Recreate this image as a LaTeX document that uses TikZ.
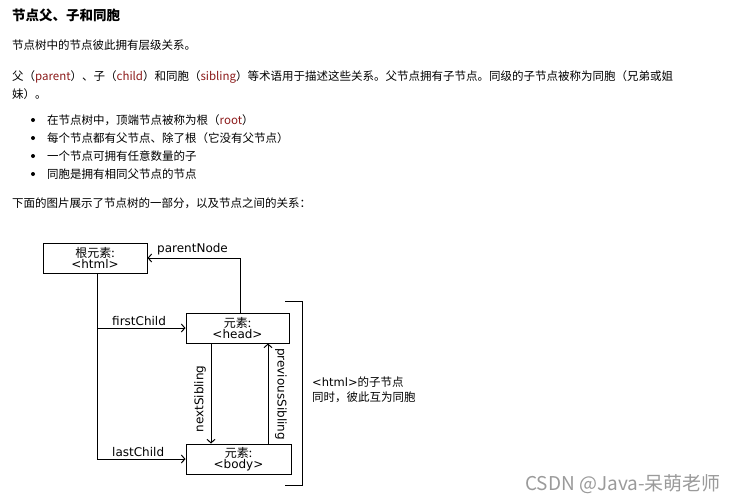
\documentclass[tikz,border=0pt]{standalone}
\usepackage{fontspec}
\usetikzlibrary{arrows.meta}
\setmainfont{Noto Sans CJK SC}
\newfontfamily\cjk{Noto Sans CJK SC}
\newfontfamily\dv{DejaVu Sans}
\definecolor{codec}{HTML}{8B1A1A}
\definecolor{wm}{HTML}{9A9A9A}
\tikzset{
  txt/.style={anchor=base west, inner sep=0pt, font=\fontsize{11.5}{13}\selectfont},
  ttl/.style={anchor=base west, inner sep=0pt, font=\fontsize{13.5}{15}\selectfont\bfseries},
  box/.style={draw, line width=1pt, minimum width=#1, minimum height=30pt, inner sep=0pt, align=center, font=\fontsize{12}{12}\selectfont},
  lbl/.style={inner sep=0pt, font=\dv\fontsize{12}{12}\selectfont},
  con/.style={line width=1pt},
  arr/.style={line width=1pt, -{Straight Barb[length=3.5pt,width=8pt]}},
  bul/.style={circle, fill, inner sep=0pt, minimum size=4pt}
}
\begin{document}
\begin{tikzpicture}[x=1pt,y=-1pt]
\useasboundingbox (0,0) rectangle (736,503);
% header text
\node[ttl] (t0) at (12,21) {节点父、子和同胞};
\node[txt] (t1) at (12,49.5) {节点树中的节点彼此拥有层级关系。};
\node[txt] (t2) at (12,81) {父（\textcolor{codec}{parent}）、子（\textcolor{codec}{child}）和同胞（\textcolor{codec}{sibling}）等术语用于描述这些关系。父节点拥有子节点。同级的子节点被称为同胞（兄弟或姐};
\node[txt] (t3) at (12,98) {妹）。};
\node[bul] (b1) at (33,120) {};
\node[bul] (b2) at (33,138) {};
\node[bul] (b3) at (33,156) {};
\node[bul] (b4) at (33,174) {};
\node[txt] (l1) at (47,124.5) {在节点树中，顶端节点被称为根（\textcolor{codec}{root}）};
\node[txt] (l2) at (47,142.5) {每个节点都有父节点、除了根（它没有父节点）};
\node[txt] (l3) at (47,160.5) {一个节点可拥有任意数量的子};
\node[txt] (l4) at (47,178.5) {同胞是拥有相同父节点的节点};
\node[txt] (t4) at (12,207.5) {下面的图片展示了节点树的一部分，以及节点之间的关系：};
% diagram
\node[box=104pt] (root) at (95,258) {根元素:\\[-1pt]{\dv <html>}};
\node[box=103pt] (head) at (237.5,328) {元素:\\[-1pt]{\dv <head>}};
\node[box=105pt] (body) at (238.5,459) {元素:\\[-1pt]{\dv <body>}};
\coordinate (trunk) at (97,0);
\coordinate (ns) at (211,0);
\coordinate (ps) at (268,0);
\coordinate (pn) at (240,0);
\draw[con] (root.south -| trunk) -- (body.west -| trunk);
\draw[arr] (head.west -| trunk) -- (head.west);
\draw[arr] (body.west -| trunk) -- (body.west);
\draw[arr] (head.north -| pn) |- (root.east);
\draw[arr] (head.south -| ns) -- (body.north -| ns);
\draw[arr] (body.north -| ps) -- (head.south -| ps);
\node[lbl, anchor=base west] (fc) at (112,325) {firstChild};
\node[lbl, anchor=base west] (lc) at (112,456) {lastChild};
\node[lbl, anchor=base west] (pnl) at (157,252) {parentNode};
\node[lbl, rotate=90] (nsl) at (200,399) {nextSibling};
\node[lbl, rotate=-90] (psl) at (281,394) {previousSibling};
% bracket
\coordinate (bt) at (285,301);
\coordinate (bb) at (285,485);
\coordinate (bx) at (302,0);
\draw[con] (bt) -| (bb -| bx) -- (bb);
\node[anchor=west, inner sep=0pt, align=left, font=\fontsize{11.5}{15}\selectfont] (desc) at (312,389.5) {{\dv <html>}的子节点\\同时，彼此互为同胞};
% watermark
\node[anchor=base east, inner sep=0pt, text=wm, font=\fontsize{19}{21}\selectfont] (wmk) at (721,490) {CSDN @Java-呆萌老师};
\end{tikzpicture}
\end{document}
